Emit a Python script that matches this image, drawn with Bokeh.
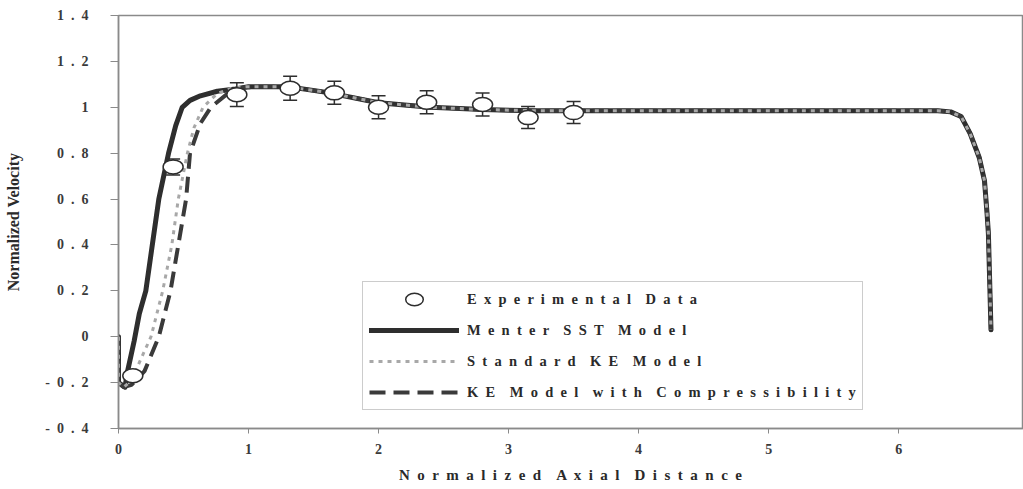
from bokeh.plotting import figure
from bokeh.models import Legend, LegendItem, FixedTicker, Range1d
from bokeh.embed import file_html
from bokeh.resources import INLINE

# Experimental data
exp_x = [0.11, 0.42, 0.91, 1.32, 1.66, 2.0, 2.37, 2.8, 3.15, 3.5]
exp_y = [-0.17, 0.74, 1.055, 1.083, 1.063, 1.0, 1.022, 1.012, 0.955, 0.977]
exp_err = [0.0, 0.035, 0.052, 0.052, 0.05, 0.05, 0.05, 0.05, 0.048, 0.048]

# Menter SST model
sst_x = [0, 0, 0.05, 0.07, 0.12, 0.16, 0.21, 0.26, 0.31, 0.385, 0.44, 0.49, 0.55, 0.63, 0.76,
         0.9, 1.0, 1.3, 1.6, 2.0, 2.4, 2.8, 3.2, 4.0, 5.0, 6.0, 6.3, 6.4, 6.48, 6.55, 6.62,
         6.66, 6.68, 6.69, 6.71]
sst_y = [0, -0.2, -0.22, -0.15, -0.02, 0.1, 0.2, 0.4, 0.6, 0.8, 0.92, 1.0, 1.03, 1.05, 1.07,
         1.08, 1.09, 1.09, 1.065, 1.02, 1.0, 0.99, 0.985, 0.985, 0.985, 0.985, 0.985, 0.98, 0.96,
         0.885, 0.78, 0.68, 0.535, 0.45, 0.03]

# Standard KE model
ke_x = [0, 0, 0.04, 0.1, 0.17, 0.25, 0.34, 0.41, 0.46, 0.53, 0.58, 0.65, 0.76, 0.88, 1.0,
        1.3, 1.6, 2.0, 2.4, 2.8, 3.2, 4.0, 5.0, 6.0, 6.3, 6.4, 6.48, 6.55, 6.62, 6.66, 6.68,
        6.69, 6.71]
ke_y = [0, -0.2, -0.22, -0.19, -0.1, 0.0, 0.2, 0.4, 0.6, 0.8, 0.91, 1.0, 1.06, 1.085, 1.09,
        1.09, 1.065, 1.02, 1.0, 0.99, 0.985, 0.985, 0.985, 0.985, 0.985, 0.98, 0.96, 0.885,
        0.78, 0.68, 0.535, 0.45, 0.03]

# KE model with compressibility
kec_x = [0, 0, 0.04, 0.1, 0.2, 0.31, 0.4, 0.46, 0.52, 0.55, 0.63, 0.71, 0.84, 0.95, 1.1,
         1.3, 1.6, 2.0, 2.4, 2.8, 3.2, 4.0, 5.0, 6.0, 6.3, 6.4, 6.48, 6.55, 6.62, 6.66, 6.68,
         6.69, 6.71]
kec_y = [0, -0.2, -0.22, -0.21, -0.15, 0.0, 0.2, 0.4, 0.6, 0.8, 0.93, 1.0, 1.06, 1.085, 1.09,
         1.09, 1.065, 1.02, 1.0, 0.99, 0.985, 0.985, 0.985, 0.985, 0.985, 0.98, 0.96, 0.885,
         0.78, 0.68, 0.535, 0.45, 0.03]

x_ticks = [0, 1, 2, 3, 4, 5, 6]
y_ticks = [-0.4, -0.2, 0, 0.2, 0.4, 0.6, 0.8, 1.0, 1.2, 1.4]
y_tick_labels = ["-0.4", "-0.2", "0", "0.2", "0.4", "0.6", "0.8", "1", "1.2", "1.4"]

labels = ["Experimental Data",
          "Menter SST Model",
          "Standard KE Model",
          "KE Model with Compressibility"]
x_title = "Normalized Axial Distance"
y_title = "Normalized Velocity"

GAP = " \u00a0"          # letter gap (kept from collapsing)
WGAP = " \u00a0 \u00a0"  # word gap


def spaced(s):
    return WGAP.join(GAP.join(list(w)) for w in s.split(" "))


FONT = "'Liberation Serif', 'Times New Roman', serif"
DARK = "#2e2e2e"

p = figure(width=1023, height=489, output_backend="svg", toolbar_location=None,
           x_range=Range1d(0, 6.96), y_range=Range1d(-0.4, 1.4),
           min_border_left=118, min_border_right=0, min_border_top=15, min_border_bottom=61)
p.background_fill_color = "white"
p.border_fill_color = "white"
p.outline_line_color = "#8a8a8a"
p.outline_line_width = 1.5
p.xgrid.visible = False
p.ygrid.visible = False

for ax in (p.xaxis[0], p.yaxis[0]):
    ax.axis_line_color = "#8a8a8a"
    ax.axis_line_width = 1.5
    ax.major_tick_line_color = "#8a8a8a"
    ax.major_tick_in = 0
    ax.minor_tick_line_color = None
    ax.major_label_text_font = FONT
    ax.major_label_text_font_style = "bold"
    ax.major_label_text_font_size = "14px"
    ax.major_label_text_color = "#3a3a3a"
    ax.axis_label_text_font = FONT
    ax.axis_label_text_font_style = "bold"
    ax.axis_label_text_color = "#2a2a2a"

p.xaxis.ticker = FixedTicker(ticks=x_ticks)
p.xaxis.major_tick_out = 5
p.xaxis.major_label_standoff = 10
p.xaxis.axis_label = spaced(x_title)
p.xaxis.axis_label_text_font_size = "15px"
p.xaxis.axis_label_standoff = 10

p.yaxis.ticker = FixedTicker(ticks=y_ticks)
p.yaxis.major_label_overrides = {t: GAP.join(list(s)) for t, s in zip(y_ticks, y_tick_labels)}
p.yaxis.major_tick_out = 8
p.yaxis.major_label_standoff = 22
p.yaxis.axis_label = y_title
p.yaxis.axis_label_text_font_size = "16px"
p.yaxis.axis_label_standoff = 20

r_sst = p.line(sst_x, sst_y, line_color=DARK, line_width=5, line_join="round", line_cap="round")
r_kec = p.line(kec_x, kec_y, line_color="#3a3a3a", line_width=4, line_dash="16 8")
r_ke = p.line(ke_x, ke_y, line_color="#a8a8a8", line_width=3, line_dash="4 5")

lo = [y - e for y, e in zip(exp_y, exp_err)]
hi = [y + e for y, e in zip(exp_y, exp_err)]
p.segment(x0=exp_x, y0=lo, x1=exp_x, y1=hi, line_color=DARK, line_width=1.5)
p.scatter(exp_x + exp_x, lo + hi, marker="dash", size=14, line_color=DARK, line_width=1.5)
r_exp = p.ellipse(exp_x, exp_y, width=20, height=14, width_units="screen", height_units="screen",
                  fill_color="white", line_color=DARK, line_width=1.5)

legend = Legend(items=[LegendItem(label=spaced(labels[0]), renderers=[r_exp]),
                       LegendItem(label=spaced(labels[1]), renderers=[r_sst]),
                       LegendItem(label=spaced(labels[2]), renderers=[r_ke]),
                       LegendItem(label=spaced(labels[3]), renderers=[r_kec])],
                location=(244, 18), padding=6, spacing=9, glyph_width=90, glyph_height=22,
                label_height=22, label_standoff=8, border_line_color="#9a9a9a", border_line_width=1,
                background_fill_color="white", background_fill_alpha=1,
                label_text_font=FONT, label_text_font_style="bold", label_text_font_size="14.5px",
                label_text_color="#2a2a2a", margin=0)
p.add_layout(legend)

open("out.html", "w").write(file_html(p, INLINE))
